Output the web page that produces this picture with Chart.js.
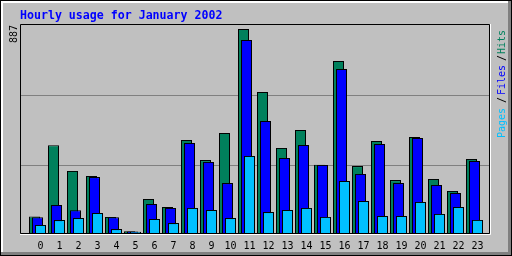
<!DOCTYPE html>
<html>
<head>
<meta charset="utf-8">
<style>
  html, body { margin: 0; padding: 0; background: #c0c0c0; }
</style>
</head>
<body>
<canvas id="hourlyChart" width="512" height="256"></canvas>
<script src="https://cdn.jsdelivr.net/npm/chart.js@4.4.1/dist/chart.umd.min.js"></script>
<script>
const hours = [0, 1, 2, 3, 4, 5, 6, 7, 8, 9, 10, 11, 12, 13, 14, 15, 16, 17, 18, 19, 20, 21, 22, 23];
const hourLabels = ['0', '1', '2', '3', '4', '5', '6', '7', '8', '9', '10', '11', '12', '13', '14', '15', '16', '17', '18', '19', '20', '21', '22', '23'];
const hits = [72, 381, 270, 248, 70, 8, 148, 113, 404, 317, 435, 887, 613, 370, 448, 297, 748, 291, 400, 230, 417, 235, 183, 322];
const files = [68, 122, 99, 243, 69, 7, 126, 109, 391, 309, 217, 839, 487, 326, 383, 296, 713, 257, 387, 217, 413, 209, 174, 313];
const pages = [35, 56, 65, 87, 17, 5, 61, 43, 109, 100, 65, 335, 91, 100, 109, 70, 226, 139, 74, 74, 135, 83, 113, 57];
const maxLabel = '887';
const titleText = 'Hourly usage for January 2002';

const SLOT = 19; // px por hora
const mono = '"DejaVu Sans Mono", monospace';

// Convierte una serie a puntos {x, y}, con el corrimiento de cada barra
const toPoints = (values, shift) => hours.map((h, i) => ({ x: h + shift / SLOT, y: values[i] }));

// Fondo gris y marco 3D de la imagen
const frame = {
    id: 'frame',
    beforeDraw(chart) {
        const ctx = chart.ctx;
        const w = chart.width, h = chart.height;
        ctx.save();
        ctx.fillStyle = '#c0c0c0';
        ctx.fillRect(0, 0, w, h);
        ctx.fillStyle = '#ffffff';
        ctx.fillRect(1, 1, w - 2, 2);
        ctx.fillRect(1, 1, 2, h - 2);
        ctx.fillStyle = '#808080';
        ctx.fillRect(1, h - 4, w - 2, 3);
        ctx.fillRect(w - 4, 1, 3, h - 2);
        ctx.strokeStyle = '#000000';
        ctx.lineWidth = 1;
        ctx.strokeRect(0.5, 0.5, w - 1, h - 1);
        ctx.restore();
    },
    afterDatasetsDraw(chart) {
        const { ctx, chartArea: a } = chart;
        const base = Math.round(chart.scales.y.getPixelForValue(0));
        ctx.save();
        ctx.lineWidth = 1;
        ctx.strokeStyle = '#000000';
        ctx.beginPath();
        ctx.moveTo(a.left + 0.5, base + 0.5);
        ctx.lineTo(a.left + 0.5, a.top - 0.5);
        ctx.lineTo(a.right - 0.5, a.top - 0.5);
        ctx.lineTo(a.right - 0.5, base + 0.5);
        ctx.closePath();
        ctx.stroke();
        ctx.strokeStyle = '#ffffff';
        ctx.beginPath();
        ctx.moveTo(a.left, base + 1.5);
        ctx.lineTo(a.right + 0.5, base + 1.5);
        ctx.lineTo(a.right + 0.5, a.top - 1);
        ctx.stroke();
        ctx.restore();
    }
};

// Leyenda vertical a la derecha: Pages / Files / Hits
const legendParts = [
    { text: 'Pages', color: '#00c0ff', at: 0 },
    { text: '/', color: '#000000', at: 35 },
    { text: 'Files', color: '#0000ff', at: 43 },
    { text: '/', color: '#000000', at: 77 },
    { text: 'Hits', color: '#00805c', at: 84 }
];
const sideLegend = {
    id: 'sideLegend',
    afterDraw(chart) {
        const ctx = chart.ctx;
        ctx.save();
        ctx.translate(505, 138);
        ctx.rotate(-Math.PI / 2);
        ctx.font = '10px ' + mono;
        ctx.textBaseline = 'alphabetic';
        legendParts.forEach(p => {
            ctx.fillStyle = p.color;
            ctx.fillText(p.text, p.at, 0);
        });
        ctx.restore();
    }
};

const ctx = document.getElementById('hourlyChart').getContext('2d');
const chartInstance = new Chart(ctx, {
    type: 'bar',
    data: {
        datasets: [
            { label: 'Pages', data: toPoints(pages, 0), backgroundColor: '#00c0ff' },
            { label: 'Files', data: toPoints(files, -3), backgroundColor: '#0000ff' },
            { label: 'Hits', data: toPoints(hits, -6), backgroundColor: '#00805c' }
        ]
    },
    options: {
        responsive: false,
        animation: false,
        devicePixelRatio: 1,
        layout: { padding: { left: 0, right: 22, top: 0, bottom: 0 } },
        datasets: {
            bar: {
                grouped: false,
                barThickness: 11,
                borderWidth: 1,
                borderColor: '#000000',
                borderSkipped: 'start',
                inflateAmount: 0
            }
        },
        plugins: {
            legend: { display: false },
            tooltip: { enabled: false },
            title: {
                display: true,
                text: titleText,
                align: 'start',
                fullSize: false,
                color: '#0000ff',
                font: { family: mono, size: 11.6, weight: 'bold', lineHeight: 1 },
                padding: { top: 10, bottom: 3.4 }
            }
        },
        scales: {
            x: {
                type: 'linear',
                position: 'bottom',
                offset: false,
                min: -20.5 / SLOT,
                max: 449.5 / SLOT,
                afterBuildTicks: s => { s.ticks = hours.map(v => ({ value: v })); },
                afterFit: s => { s.height = 21; },
                ticks: {
                    callback: (v, i) => hourLabels[i],
                    autoSkip: false,
                    maxRotation: 0,
                    color: '#000000',
                    padding: 5,
                    font: { family: mono, size: 10 }
                },
                grid: { display: false, drawTicks: false },
                border: { display: false }
            },
            y: {
                position: 'left',
                min: -8.7,
                max: 904.4,
                afterBuildTicks: s => {
                    s.ticks = [1, 2].map(k => ({ value: s.min + (s.max - s.min) * k / 3 }));
                },
                afterFit: s => { s.width = 20; },
                ticks: { display: false },
                grid: { color: '#808080', lineWidth: 1, drawTicks: false },
                border: { display: false },
                title: {
                    display: true,
                    text: maxLabel,
                    align: 'end',
                    color: '#000000',
                    font: { family: mono, size: 10, lineHeight: 1 },
                    padding: { top: 9, bottom: 0 }
                }
            }
        }
    },
    plugins: [frame, sideLegend]
});
</script>
</body>
</html>
